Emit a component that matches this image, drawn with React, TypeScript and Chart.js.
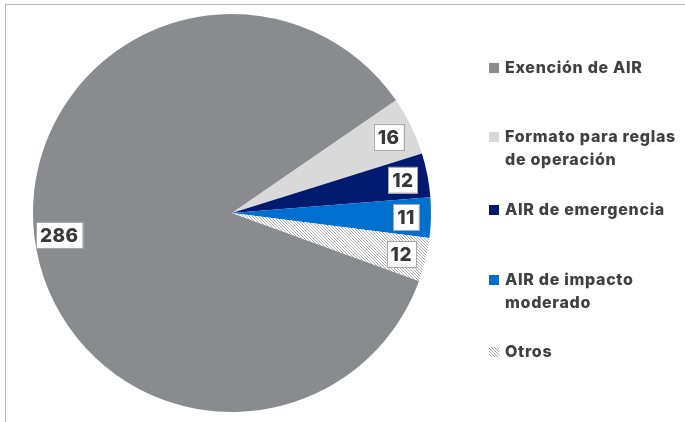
import React, { useEffect, useRef } from "react";
import { Chart, registerables } from "chart.js";

Chart.register(...registerables);

const categories: string[][] = [
  ["Exención de AIR"],
  ["Formato para reglas", "de operación"],
  ["AIR de emergencia"],
  ["AIR de impacto", "moderado"],
  ["Otros"],
];
const values: number[] = [286, 16, 12, 11, 12];
const colors: string[] = ["#8a8b8f", "#d9d9d9", "#001a70", "#0070d0", "pattern"];
const legendY: number[] = [68, 137, 210, 280, 352];

const FONT = "Inter, 'Noto Sans', sans-serif";

function makePattern(ctx: CanvasRenderingContext2D): CanvasPattern | string {
  const c = document.createElement("canvas");
  const s = 3;
  c.width = s;
  c.height = s;
  const p = c.getContext("2d")!;
  p.fillStyle = "#ffffff";
  p.fillRect(0, 0, s, s);
  p.fillStyle = "#a9a9a9";
  for (let i = 0; i < s; i++) p.fillRect(i, i, 1, 1);
  return ctx.createPattern(c, "repeat") || "#cccccc";
}

export default function App() {
  const ref = useRef<HTMLCanvasElement>(null);
  useEffect(() => {
    const canvas = ref.current!;
    const ctx = canvas.getContext("2d")!;
    const pattern = makePattern(ctx);
    const bg = colors.map((c) => (c === "pattern" ? pattern : c));

    const labelPlugin = {
      id: "labelsAndLegend",
      afterDatasetsDraw(chart: any) {
        const c: any = chart.ctx;
        const meta = chart.getDatasetMeta(0);
        c.save();
        c.font = `800 19px ${FONT}`;
        c.letterSpacing = "0.4px";
        c.textAlign = "center";
        c.textBaseline = "middle";
        meta.data.forEach((arc: any, i: number) => {
          const mid = (arc.startAngle + arc.endAngle) / 2;
          const r = arc.outerRadius * 0.875;
          const x = arc.x + Math.cos(mid) * r;
          const y = arc.y + Math.sin(mid) * r;
          const txt = String(values[i]);
          const w = c.measureText(txt).width + 8;
          const h = 26;
          c.fillStyle = "#ffffff";
          c.fillRect(x - w / 2, y - h / 2, w, h);
          c.strokeStyle = "#a6a6a6";
          c.lineWidth = 1;
          c.strokeRect(Math.round(x - w / 2) + 0.5, Math.round(y - h / 2) + 0.5, Math.round(w), h);
          c.fillStyle = "#383838";
          c.fillText(txt, x, y + 1);
        });
        // legend
        c.font = `800 16px ${FONT}`;
        c.letterSpacing = "0.7px";
        c.textAlign = "left";
        categories.forEach((lines, i) => {
          const y0 = legendY[i];
          c.fillStyle = bg[i] as any;
          c.fillRect(489, y0 - 5, 10, 10);
          c.fillStyle = "#404040";
          lines.forEach((ln, j) => {
            c.fillText(ln, 505, y0 + j * 23);
          });
        });
        c.restore();
      },
    };

    const chart = new Chart(canvas, {
      type: "pie",
      data: {
        labels: categories.map((l) => l.join(" ")),
        datasets: [
          {
            data: values,
            backgroundColor: bg as any,
            borderWidth: 0,
          },
        ],
      },
      options: {
        animation: false,
        responsive: false,
        rotation: 110,
        layout: { padding: { left: 33, right: 254, top: 14, bottom: 10 } },
        plugins: { legend: { display: false }, tooltip: { enabled: false } },
      },
      plugins: [labelPlugin],
    });
    return () => chart.destroy();
  }, []);

  return (
    <div style={{ position: "fixed", left: 0, top: 0, width: 685, height: 422, background: "#fff", overflow: "hidden" }}>
      <div
        style={{
          position: "absolute",
          left: 5,
          top: 4,
          width: 700,
          height: 440,
          borderLeft: "1px solid #b7b7b7",
          borderTop: "1px solid #b7b7b7",
        }}
      />
      <canvas ref={ref} width={685} height={422} style={{ position: "absolute", left: 0, top: 0, width: 685, height: 422 }} />
    </div>
  );
}
